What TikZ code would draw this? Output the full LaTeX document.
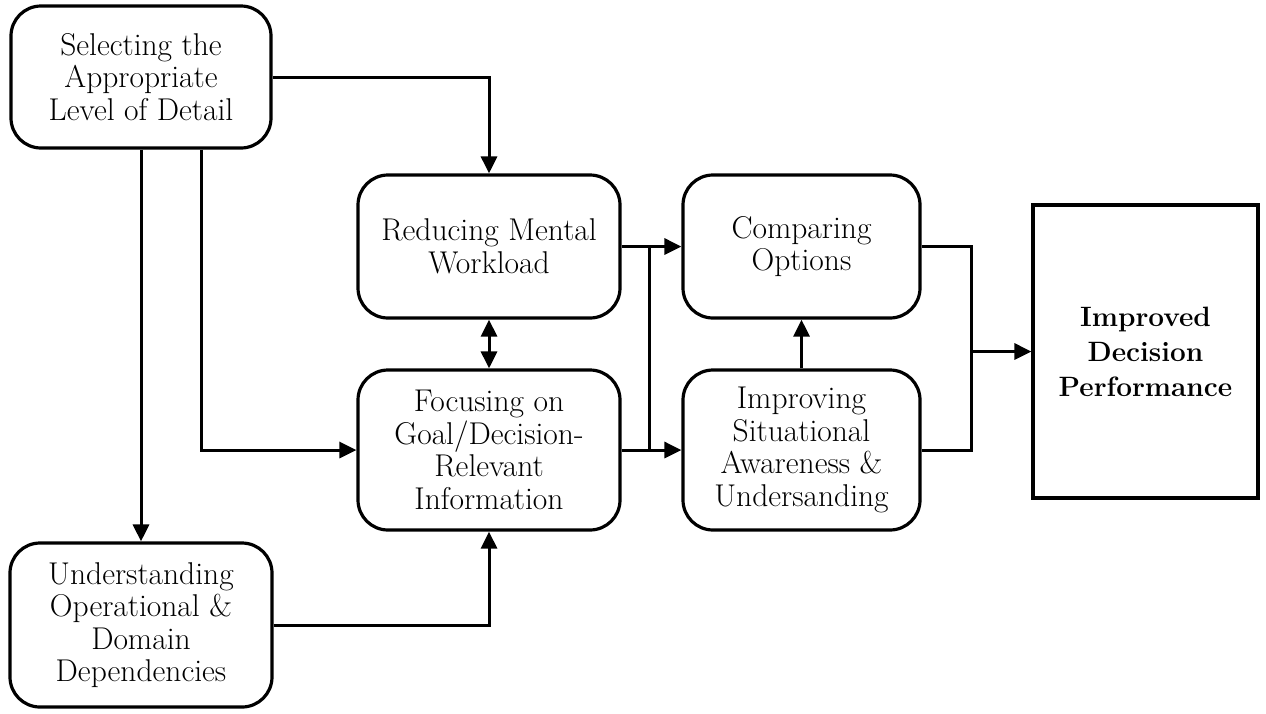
\documentclass[tikz,border=0pt]{standalone}
\usetikzlibrary{arrows.meta,calc}
\begin{document}
\begin{tikzpicture}[x=1pt,y=-1pt,
  box/.style={draw,line width=3.2pt,rounded corners=30pt,align=center,
    inner sep=0pt,font=\fontsize{31.5}{32.5}\selectfont},
  goalbox/.style={draw,line width=3.2pt,align=center,inner sep=0pt,
    font=\fontsize{28}{35}\selectfont\bfseries},
  conn/.style={line width=3pt},
  arr/.style={conn,-{Triangle[length=17pt,width=16pt]}},
  arrboth/.style={conn,{Triangle[length=17pt,width=16pt]}-{Triangle[length=17pt,width=16pt]}}]
\useasboundingbox (0,0) rectangle (1266,713);

% process boxes
\node[box,minimum width=260pt,minimum height=142pt] (sel) at (141,77)
  {Selecting the\\Appropriate\\Level of Detail};
\node[box,minimum width=262pt,minimum height=143pt] (red) at (489,246.5)
  {Reducing Mental\\Workload};
\node[box,minimum width=262pt,minimum height=160pt] (foc) at (489,450)
  {Focusing on\\Goal/Decision-\\Relevant\\Information};
\node[box,minimum width=262pt,minimum height=164pt] (und) at (141,625)
  {Understanding\\Operational \&\\Domain\\Dependencies};
\node[box,minimum width=237pt,minimum height=143pt] (cmp) at (801.5,246.5)
  {Comparing\\Options};
\node[box,minimum width=237pt,minimum height=160pt] (sit) at (801.5,450)
  {Improving\\Situational\\Awareness \&\\Undersanding};
\node[goalbox,minimum width=225pt,minimum height=293pt] (perf) at (1145.5,351.5)
  {Improved\\Decision\\Performance};

% connectors from the detail-selection box
\draw[arr] (sel.east) -| (red.north);
\draw[arr] (sel.south) -- (und.north);
\draw[arr] ([xshift=60pt]sel.south) |- (foc.west);
\draw[arrboth] (red.south) -- (foc.north);
\draw[arr] (und.east) -| (foc.south);

% into comparing / situational awareness
\draw[arr] (red.east) -- (cmp.west);
\draw[arr] (foc.east) -- (sit.west);
\path (red.east) -- (cmp.west) coordinate[pos=0.47] (j1);
\path (foc.east) -- (sit.west) coordinate[pos=0.47] (j2);
\draw[conn] (j1) -- (j2);
\draw[arr] (sit.north) -- (cmp.south);

% merge into performance
\coordinate (k) at ($(perf.west)+(-60,0)$);
\draw[conn] (cmp.east) -| (k) |- (sit.east);
\draw[arr] (k) -- (perf.west);
\end{tikzpicture}
\end{document}
